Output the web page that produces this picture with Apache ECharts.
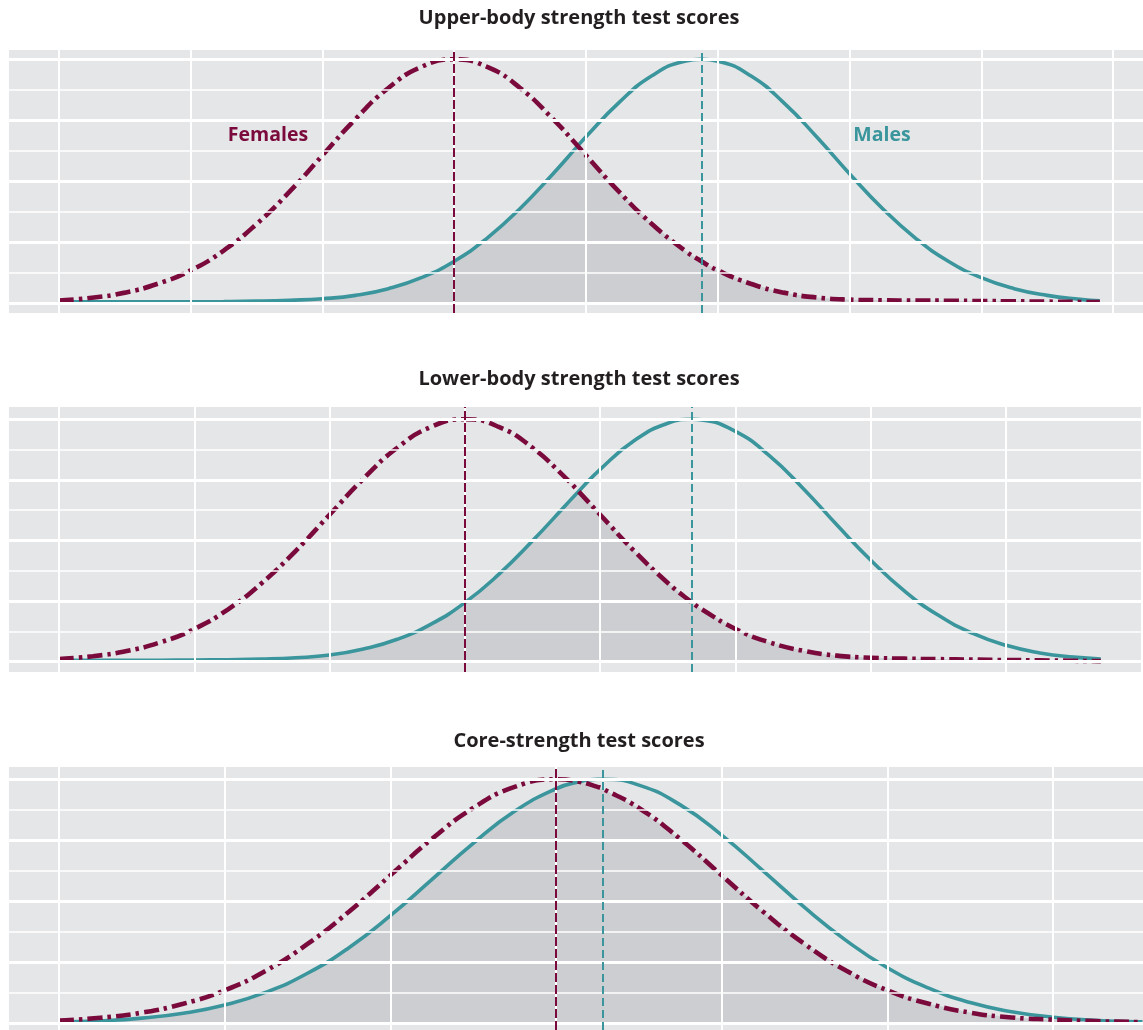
<!DOCTYPE html>
<html>
<head>
<meta charset="utf-8">
<title>Strength test scores</title>
<script src="https://cdn.jsdelivr.net/npm/echarts@6/dist/echarts.min.js"></script>
<style>
  html, body { margin: 0; padding: 0; background: #fff; }
  #chart { width: 1143px; height: 1030px; }
</style>
</head>
<body>
<div id="chart"></div>
<script>
// titles and series names
const panelTitles = ['Upper-body strength test scores', 'Lower-body strength test scores', 'Core-strength test scores']
const seriesNames = ['Females', 'Males']

// grid lines (score units: one vertical line per standard deviation)
const xTicksP1 = [0, 1, 2, 3, 4, 5, 6, 7, 8]
const xTicksP2 = [0, 1, 2, 3, 4, 5, 6, 7, 8]
const xTicksP3 = [0, 1, 2, 3, 4, 5, 6]
const yTicks = [0, 1, 2, 3, 4, 5, 6, 7, 8]

// group means (dashed vertical lines)
const femaleMeans = [3, 3, 3]
const maleMeans = [4.875, 4.68, 3.28]

// upper-body
const xP1 = [0, 0.25, 0.5, 0.75, 1, 1.25, 1.5, 1.75, 2, 2.25, 2.5, 2.75, 3, 3.25, 3.5, 3.75, 3.9375, 4, 4.25, 4.5, 4.75, 4.875, 5, 5.25, 5.5, 5.75, 6, 6.25, 6.5, 6.75, 7, 7.25, 7.5, 7.75, 7.9]
const femaleP1 = [0.09, 0.18, 0.35, 0.64, 1.08, 1.73, 2.6, 3.66, 4.85, 6.04, 7.06, 7.75, 8, 7.75, 7.06, 6.04, 5.16, 4.85, 3.66, 2.6, 1.73, 1.38, 1.08, 0.64, 0.35, 0.19, 0.12, 0.1, 0.09, 0.085, 0.075, 0.065, 0.055, 0.045, 0.04]
const maleP1 = [0.05, 0.05, 0.05, 0.05, 0.05, 0.055, 0.07, 0.1, 0.15, 0.26, 0.48, 0.84, 1.38, 2.14, 3.11, 4.25, 5.16, 5.46, 6.58, 7.46, 7.94, 8, 7.94, 7.46, 6.58, 5.46, 4.25, 3.11, 2.14, 1.38, 0.84, 0.48, 0.26, 0.13, 0.08]

// lower-body
const xP2 = [0, 0.25, 0.5, 0.75, 1, 1.25, 1.5, 1.75, 2, 2.25, 2.5, 2.75, 3, 3.25, 3.5, 3.75, 3.84, 4, 4.25, 4.5, 4.68, 4.75, 5, 5.25, 5.5, 5.75, 6, 6.25, 6.5, 6.75, 7, 7.25, 7.5, 7.7]
const femaleP2 = [0.09, 0.18, 0.35, 0.64, 1.08, 1.73, 2.6, 3.66, 4.85, 6.04, 7.06, 7.75, 8, 7.75, 7.06, 6.04, 5.62, 4.85, 3.66, 2.6, 1.95, 1.73, 1.08, 0.64, 0.36, 0.2, 0.13, 0.1, 0.085, 0.07, 0.055, 0.045, 0.03, 0.02]
const maleP2 = [0.05, 0.05, 0.05, 0.05, 0.055, 0.065, 0.085, 0.13, 0.22, 0.42, 0.74, 1.24, 1.95, 2.88, 3.99, 5.19, 5.62, 6.35, 7.29, 7.87, 8, 7.98, 7.6, 6.8, 5.72, 4.51, 3.35, 2.33, 1.53, 0.94, 0.54, 0.29, 0.15, 0.09]

// core
const xP3 = [0, 0.25, 0.5, 0.75, 1, 1.25, 1.5, 1.75, 2, 2.25, 2.5, 2.75, 3, 3.14, 3.25, 3.28, 3.5, 3.75, 4, 4.25, 4.5, 4.75, 5, 5.25, 5.5, 5.75, 6, 6.25, 6.5, 6.54]
const femaleP3 = [0.09, 0.18, 0.35, 0.64, 1.08, 1.73, 2.6, 3.66, 4.85, 6.04, 7.06, 7.75, 8, 7.92, 7.75, 7.69, 7.06, 6.04, 4.85, 3.66, 2.6, 1.73, 1.08, 0.64, 0.35, 0.19, 0.12, 0.07, 0.04, 0.035]
const maleP3 = [0.04, 0.08, 0.17, 0.33, 0.6, 1.02, 1.64, 2.48, 3.53, 4.71, 5.9, 6.95, 7.69, 7.92, 8, 8, 7.81, 7.16, 6.17, 5, 3.8, 2.72, 1.82, 1.15, 0.68, 0.38, 0.2, 0.1, 0.05, 0.045]

const RED = '#7A0A3B'
const TEAL = '#3A969C'
const BG = '#E5E6E8'
const INK = '#231F20'

// layout of each panel (pixel box + axis extents)
const panels = [
  { top: 50, height: 263, xMin: -0.3795, xMax: 8.2277, yMin: -0.318, yMax: 8.305, x: xP1, f: femaleP1, m: maleP1, xTicks: xTicksP1 },
  { top: 407, height: 265, xMin: -0.3695, xMax: 8.0118, yMin: -0.34, yMax: 8.406, x: xP2, f: femaleP2, m: maleP2, xTicks: xTicksP2 },
  { top: 767, height: 263, xMin: -0.3018, xMax: 6.543, yMin: -0.22, yMax: 8.403, x: xP3, f: femaleP3, m: maleP3, xTicks: xTicksP3 },
]

const chart = echarts.init(document.getElementById('chart'))

const grid = [], xAxis = [], yAxis = [], series = []
panels.forEach((p, i) => {
  grid.push({ left: 9, right: 0, top: p.top, height: p.height, show: true, backgroundColor: BG, borderWidth: 0 })
  xAxis.push({ type: 'value', gridIndex: i, min: p.xMin, max: p.xMax, show: false })
  yAxis.push({ type: 'value', gridIndex: i, min: p.yMin, max: p.yMax, show: false })

  // white grid lines, thick and thin rows alternate
  const gridLines = p.xTicks.map(v => ({ xAxis: v, lineStyle: { width: 2 } }))
    .concat(yTicks.map(v => ({ yAxis: v, lineStyle: { width: v % 2 === 0 ? 3 : 1.7 } })))
  series.push({
    type: 'line', xAxisIndex: i, yAxisIndex: i, data: [], z: 1, silent: true,
    markLine: { silent: true, symbol: ['none', 'none'], label: { show: false },
      lineStyle: { color: '#FFFFFF', type: 'solid' }, data: gridLines },
  })

  // shaded overlap under both curves
  series.push({
    type: 'line', xAxisIndex: i, yAxisIndex: i, z: 2, silent: true,
    data: p.x.map((x, k) => [x, Math.min(p.f[k], p.m[k])]),
    showSymbol: false, lineStyle: { width: 0 },
    areaStyle: { color: 'rgba(140,142,150,0.38)' },
  })

  series.push({
    name: seriesNames[1], type: 'line', xAxisIndex: i, yAxisIndex: i, z: 3,
    data: p.x.map((x, k) => [x, p.m[k]]),
    smooth: true, showSymbol: false,
    lineStyle: { color: TEAL, width: 3.6 },
    markLine: { silent: true, symbol: ['none', 'none'], label: { show: false },
      lineStyle: { color: TEAL, width: 2, type: [8, 4] }, data: [{ xAxis: maleMeans[i] }] },
  })

  series.push({
    name: seriesNames[0], type: 'line', xAxisIndex: i, yAxisIndex: i, z: 4,
    data: p.x.map((x, k) => [x, p.f[k]]),
    smooth: true, showSymbol: false,
    lineStyle: { color: RED, width: 4.6, type: [15, 5, 3.5, 5], cap: 'butt' },
    markLine: { silent: true, symbol: ['none', 'none'], label: { show: false },
      lineStyle: { color: RED, width: 2, type: [9, 3] }, data: [{ xAxis: femaleMeans[i] }] },
  })
})

const titleY = [18, 379, 741]
const text = (str, x, y, color, size) => ({
  type: 'text', x: x, y: y, silent: true, z: 10,
  style: { text: str, fill: color, font: 'bold ' + size + 'px "Open Sans", sans-serif',
    align: 'center', verticalAlign: 'middle', textAlign: 'center', textVerticalAlign: 'middle' },
})
const graphic = panelTitles.map((t, i) => text(t, 579, titleY[i], INK, 20))
graphic.push(text(seriesNames[0], 268, 135, RED, 19.5))
graphic.push(text(seriesNames[1], 882, 135, TEAL, 19.5))

chart.setOption({
  animation: false,
  grid: grid,
  xAxis: xAxis,
  yAxis: yAxis,
  series: series,
  graphic: graphic,
})
</script>
</body>
</html>
